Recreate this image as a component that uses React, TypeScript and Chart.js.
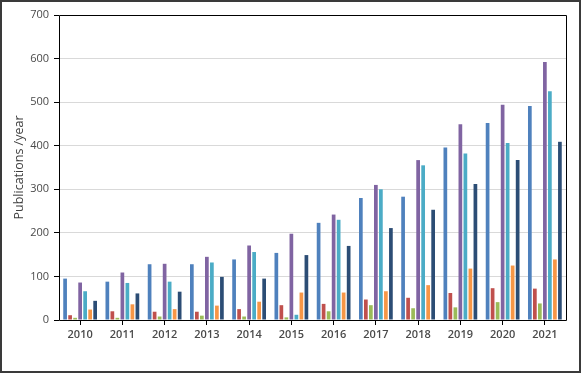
import React, { useEffect, useRef } from "react";
import { Chart, registerables } from "chart.js";

Chart.register(...registerables);

const years = ["2010", "2011", "2012", "2013", "2014", "2015", "2016", "2017", "2018", "2019", "2020", "2021"];
const yTicks = [0, 100, 200, 300, 400, 500, 600, 700];

const series1 = [95, 88, 128, 128, 139, 154, 223, 280, 283, 396, 452, 491];
const series2 = [11, 20, 19, 19, 25, 34, 37, 47, 51, 62, 73, 72];
const series3 = [5, 5, 8, 10, 8, 6, 20, 34, 27, 29, 41, 38];
const series4 = [86, 109, 129, 145, 171, 198, 242, 310, 367, 449, 494, 592];
const series5 = [66, 85, 88, 132, 156, 12, 230, 300, 355, 382, 406, 525];
const series6 = [24, 36, 25, 33, 42, 63, 63, 66, 80, 118, 125, 139];
const series7 = [44, 61, 65, 99, 95, 149, 170, 211, 253, 312, 367, 409];

const seriesNames = ["Series 1", "Series 2", "Series 3", "Series 4", "Series 5", "Series 6", "Series 7"];
const seriesColors = ["#4F81BD", "#C0504D", "#9BBB59", "#8064A2", "#4BACC6", "#F79646", "#2C4D75"];

const FONT = "'Open Sans', 'Liberation Sans', sans-serif";

const framePlugin = {
  id: "plotFrame",
  afterDatasetsDraw(chart: any) {
    const { ctx, chartArea } = chart;
    const l = Math.round(chartArea.left) + 0.5;
    const t = Math.round(chartArea.top) + 0.5;
    const r = Math.round(chartArea.right) + 0.5;
    const b = Math.round(chartArea.bottom) + 0.5;
    ctx.save();
    ctx.strokeStyle = "#000000";
    ctx.lineWidth = 1;
    ctx.beginPath();
    ctx.moveTo(l, t);
    ctx.lineTo(r, t);
    ctx.lineTo(r, b);
    ctx.lineTo(l, b);
    ctx.closePath();
    ctx.stroke();
    ctx.restore();
  },
};

export default function App() {
  const canvasRef = useRef<HTMLCanvasElement | null>(null);

  useEffect(() => {
    if (!canvasRef.current) return;
    const all = [series1, series2, series3, series4, series5, series6, series7];
    const chart = new Chart(canvasRef.current, {
      type: "bar",
      data: {
        labels: years,
        datasets: all.map((d, i) => ({
          label: seriesNames[i],
          data: d,
          backgroundColor: seriesColors[i],
          borderWidth: 0,
          categoryPercentage: 0.83,
          barPercentage: 0.74,
        })),
      },
      options: {
        animation: false,
        responsive: false,
        devicePixelRatio: 1,
        layout: { padding: { left: 0, right: 13, top: 13, bottom: 0 } },
        plugins: {
          legend: { display: false },
          tooltip: { enabled: false },
          title: { display: false },
        },
        scales: {
          x: {
            offset: true,
            border: { display: false },
            grid: {
              display: true,
              offset: false,
              drawOnChartArea: false,
              drawTicks: true,
              tickLength: 5,
              tickColor: "#000000",
            },
            ticks: {
              color: "#4A4A4A",
              padding: 3,
              maxRotation: 0,
              font: { family: FONT, size: 11, weight: "600" },
            },
            afterFit(scale: any) {
              scale.height = 51;
            },
          },
          y: {
            min: 0,
            max: 700,
            border: { display: false },
            grid: {
              color: "#D9D9D9",
              lineWidth: 1,
              drawTicks: true,
              tickLength: 5,
              tickColor: "#000000",
            },
            afterBuildTicks(scale: any) {
              scale.ticks = yTicks.map((v) => ({ value: v }));
            },
            ticks: {
              color: "#4A4A4A",
              padding: 5,
              font: { family: FONT, size: 11 },
            },
            title: {
              display: true,
              text: "Publications /year",
              color: "#404040",
              padding: { top: 10, bottom: 0 },
              font: { family: FONT, size: 12.5 },
            },
            afterFit(scale: any) {
              scale.width = 57;
            },
          },
        },
      },
      plugins: [framePlugin],
    });
    return () => chart.destroy();
  }, []);

  return (
    <div
      style={{
        position: "absolute",
        left: 0,
        top: 0,
        width: 581,
        height: 373,
        boxSizing: "border-box",
        border: "2px solid #3A3A3A",
        background: "#FFFFFF",
      }}
    >
      <canvas ref={canvasRef} width={577} height={369} style={{ display: "block", width: 577, height: 369 }} />
    </div>
  );
}
